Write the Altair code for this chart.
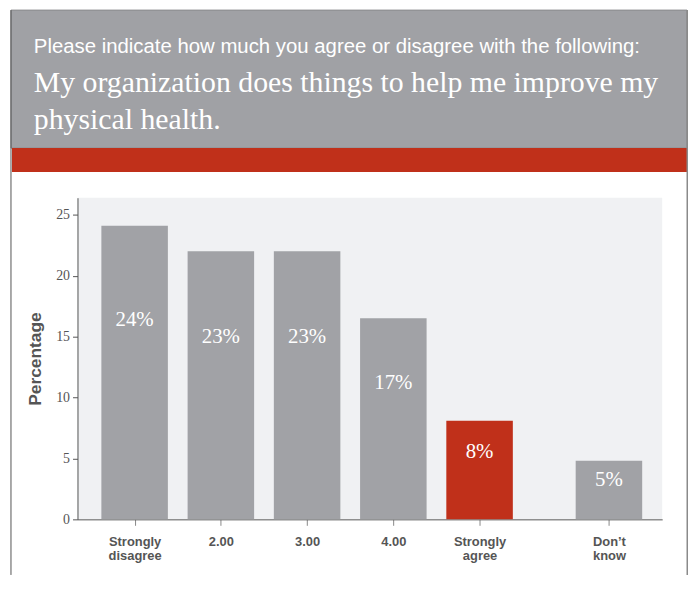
import altair as alt
import pandas as pd

# ---- data ----
categories = ["Strongly disagree", "2.00", "3.00", "4.00", "Strongly agree", "Don\u2019t know"]
values = [24.1, 22.0, 22.0, 16.5, 8.1, 4.8]
labels = ["24%", "23%", "23%", "17%", "8%", "5%"]
y_ticks = [0, 5, 10, 15, 20, 25]
highlight = "Strongly agree"
gap_before = "Don\u2019t know"

header_small = "Please indicate how much you agree or disagree with the following:"
header_big = ["My organization does things to help me improve my", "physical health."]

# category slots (an extra half slot before "Don't know")
pos = []
p = 0
for c in categories:
    p += 1.5 if c == gap_before else 1
    pos.append(p)

df = pd.DataFrame({"category": categories, "value": values, "label": labels, "pos": pos})

expr = " : ".join(f"datum.value == {q} ? '{c}'" for q, c in zip(pos, categories)) + " : ''"
label_expr = f"split(({expr}), ' ')"

GRAY = "#a1a2a6"
RED = "#c0301a"
TXT = "#555555"

one = alt.Data(values=[{}])

header = alt.Chart(one).mark_rect(fill="#a0a1a5", stroke="#8a8a8d", strokeWidth=1).encode(
    x=alt.value(-67), x2=alt.value(614), y=alt.value(-189), y2=alt.value(-50)
)
band = alt.Chart(one).mark_rect(fill=RED).encode(
    x=alt.value(-66), x2=alt.value(614), y=alt.value(-50), y2=alt.value(-26)
)
lline = alt.Chart(one).mark_rule(color="#555555", strokeWidth=1).encode(
    x=alt.value(-67), y=alt.value(-189), y2=alt.value(380)
)
rline = alt.Chart(one).mark_rule(color="#8a8a8a", strokeWidth=2).encode(
    x=alt.value(614.5), y=alt.value(-189), y2=alt.value(380)
)
t1 = alt.Chart(one).mark_text(
    text=header_small, font="Liberation Sans", fontSize=20.5, color="white",
    align="left", baseline="alphabetic"
).encode(x=alt.value(-44), y=alt.value(-146))
t2 = alt.Chart(one).mark_text(
    text=header_big, font="Liberation Serif", fontSize=30, lineHeight=37, color="white",
    align="left", baseline="alphabetic"
).encode(x=alt.value(-44), y=alt.value(-106))

base = alt.Chart(df)

bars = base.mark_bar(size=67, orient="vertical").encode(
    x=alt.X(
        "pos:Q",
        scale=alt.Scale(domain=[0.395, 7.06], nice=False, zero=False),
        axis=alt.Axis(
            values=pos, labelExpr=label_expr, title=None, grid=False,
            tickSize=6, tickColor="#888888", domainColor=TXT,
            labelFont="Liberation Sans", labelFontWeight="bold", labelFontSize=13,
            labelColor=TXT, labelLineHeight=14.5, labelPadding=10,
        ),
    ),
    y=alt.Y(
        "value:Q",
        scale=alt.Scale(domain=[0, 26.4], nice=False),
        axis=alt.Axis(
            values=y_ticks, title="Percentage", grid=False,
            tickSize=5, tickColor=TXT, domainColor=TXT,
            labelFont="Liberation Serif", labelFontSize=14, labelColor=TXT, labelPadding=3,
            titleFont="Liberation Sans", titleFontWeight="bold", titleFontSize=17.5,
            titleColor=TXT, titleX=-33, titleY=162, titleAngle=270,
            titleAlign="center", titleBaseline="bottom",
        ),
    ),
    color=alt.condition(alt.datum.category == highlight, alt.value(RED), alt.value(GRAY)),
)

text = base.transform_calculate(ly="datum.value * 0.68").mark_text(
    font="Liberation Serif", fontSize=21, color="white", baseline="middle"
).encode(x="pos:Q", y="ly:Q", text="label:N")

chart = alt.layer(header, band, lline, rline, t1, t2, bars, text).properties(
    width=589,
    height=324,
    padding={"left": 70, "top": 189, "right": 26, "bottom": 62},
    autosize=alt.AutoSizeParams(type="none"),
    background="white",
).configure_view(fill="#f0f1f3", strokeWidth=0)

chart.save("out.html", embed_options={"renderer": "svg", "actions": False})
